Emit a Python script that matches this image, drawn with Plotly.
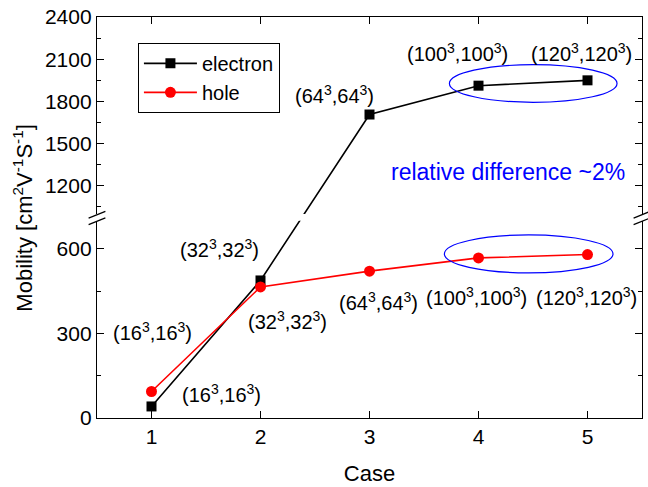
import plotly.graph_objects as go

# ---- data ----
cases = [1, 2, 3, 4, 5]
electron = [41, 488, 1707, 1912, 1950]
hole = [94, 465, 521, 568, 580]

grid_labels = ["(16<sup>3</sup>,16<sup>3</sup>)", "(32<sup>3</sup>,32<sup>3</sup>)",
               "(64<sup>3</sup>,64<sup>3</sup>)", "(100<sup>3</sup>,100<sup>3</sup>)",
               "(120<sup>3</sup>,120<sup>3</sup>)"]
# label anchor positions (data coords)
elec_lab_x = [1.645, 1.626, 2.68, 3.81, 4.946]
elec_lab_y = [88, 600, 1849, 2146, 2146]
elec_lab_ax = ["y", "y", "y2", "y2", "y2"]
hole_lab_x = [1.008, 2.249, 3.087, 3.985, 4.987]
hole_lab_y = [307, 347, 413, 431, 431]

# broken axis ranges
low_range = [0, 700]
up_range = [1000, 2400]
low_dom = [0, 0.492]
up_dom = [0.5087, 1]

# ellipses (data coords)
ell_up = dict(x0=3.733, x1=5.271, y0=1794, y1=2061)
ell_low = dict(x0=3.687, x1=5.234, y0=515, y1=649.5)

W, H = 648, 487
ML, MR, MT, MB = 97, 5, 17, 67
ph = H - MT - MB
pw = W - ML - MR

# pixel scales of each segment
s_low = (low_dom[1] - low_dom[0]) * ph / (low_range[1] - low_range[0])
s_up = (up_dom[1] - up_dom[0]) * ph / (up_range[1] - up_range[0])


def px_of(v):
    if v <= low_range[1]:
        return v * s_low
    return up_dom[0] * ph + (v - up_range[0]) * s_up


def in_low(v):
    return px_of(v) / s_low


def in_up(v):
    return up_range[0] + (px_of(v) - up_dom[0] * ph) / s_up


FONT = "Liberation Sans, Arial, sans-serif"
FS = 21

fig = go.Figure()

# electron in lower segment
fig.add_trace(go.Scatter(
    x=cases, y=[in_low(v) for v in electron], mode="lines+markers",
    name="electron", line=dict(color="black", width=1.6),
    marker=dict(symbol="square", size=10, color="black"),
    xaxis="x", yaxis="y", cliponaxis=True))
# hole
fig.add_trace(go.Scatter(
    x=cases, y=hole, mode="lines+markers", name="hole",
    line=dict(color="red", width=1.6),
    marker=dict(symbol="circle", size=11, color="red"),
    xaxis="x", yaxis="y", cliponaxis=True))
# electron in upper segment
fig.add_trace(go.Scatter(
    x=cases, y=[in_up(v) for v in electron], mode="lines+markers",
    name="electron", showlegend=False, line=dict(color="black", width=1.6),
    marker=dict(symbol="square", size=10, color="black"),
    xaxis="x2", yaxis="y2", cliponaxis=True))

ann = []
for t, x, y, ax in zip(grid_labels, elec_lab_x, elec_lab_y, elec_lab_ax):
    ann.append(dict(x=x, y=y, xref="x" if ax == "y" else "x2", yref=ax, text=t,
                    showarrow=False, font=dict(size=20, color="black", family=FONT)))
for t, x, y in zip(grid_labels, hole_lab_x, hole_lab_y):
    ann.append(dict(x=x, y=y, xref="x", yref="y", text=t,
                    showarrow=False, font=dict(size=20, color="black", family=FONT)))
ann.append(dict(x=4.27, y=1297, xref="x2", yref="y2", text="relative difference ~2%",
                showarrow=False, font=dict(size=23, color="#0000ff", family=FONT)))
ann.append(dict(x=-72 / pw, y=0.5, xref="paper", yref="paper",
                xanchor="center", yanchor="middle", xshift=-3,
                text="Mobility [cm<sup>2</sup>V<sup>-1</sup>S<sup>-1</sup>]",
                textangle=-90, showarrow=False,
                font=dict(size=22, color="black", family=FONT)))

shapes = [
    dict(type="circle", xref="x2", yref="y2", line=dict(color="#0000ff", width=1.2), **ell_up),
    dict(type="circle", xref="x", yref="y", line=dict(color="#0000ff", width=1.2), **ell_low),
]
# break marks on left and right axes
dxp = 8.4 / pw
dyp = 3.35 / ph
for xc in (0, 1):
    for yc in (low_dom[1] - 0.0014, up_dom[0] - 0.0017):
        shapes.append(dict(type="line", xref="paper", yref="paper",
                           x0=xc - dxp, x1=xc + dxp, y0=yc - dyp, y1=yc + dyp,
                           line=dict(color="black", width=1.3)))

axis_common = dict(showline=True, linecolor="black", linewidth=1.3, ticks="inside",
                   tickcolor="black", tickwidth=1.3, showgrid=False, zeroline=False,
                   tickfont=dict(size=FS, family=FONT, color="black"))

fig.update_layout(
    width=W, height=H, margin=dict(l=ML, r=MR, t=MT, b=MB),
    paper_bgcolor="white", plot_bgcolor="white",
    font=dict(family=FONT, size=FS, color="black"),
    xaxis=dict(range=[0.5, 5.5], tickvals=cases, ticklen=7, anchor="y", side="bottom",
               title=dict(text="Case", font=dict(size=22, family=FONT), standoff=18),
               **axis_common),
    xaxis2=dict(range=[0.5, 5.5], tickvals=cases, ticklen=7, anchor="y2", side="top",
                matches="x", showticklabels=False, **axis_common),
    yaxis=dict(domain=low_dom, range=low_range, tickvals=[0, 300, 600], ticklen=7,
               mirror="ticks", anchor="x",
               minor=dict(tickvals=[150, 450], ticklen=4, ticks="inside",
                          tickcolor="black", tickwidth=1.3),
               **axis_common),
    yaxis2=dict(domain=up_dom, range=up_range, tickvals=[1200, 1500, 1800, 2100, 2400],
                ticklen=7, mirror="ticks", anchor="x2",
                minor=dict(tickvals=[1050, 1350, 1650, 1950, 2250], ticklen=4,
                           ticks="inside", tickcolor="black", tickwidth=1.3),
                **axis_common),
    legend=dict(x=41 / pw, y=1 - 26 / ph, xanchor="left", yanchor="top",
                bgcolor="white", bordercolor="black", borderwidth=1, itemwidth=53,
                font=dict(size=20, family=FONT, color="black"), tracegroupgap=0),
    annotations=ann, shapes=shapes, showlegend=True,
)

fig.write_html("out.html")
